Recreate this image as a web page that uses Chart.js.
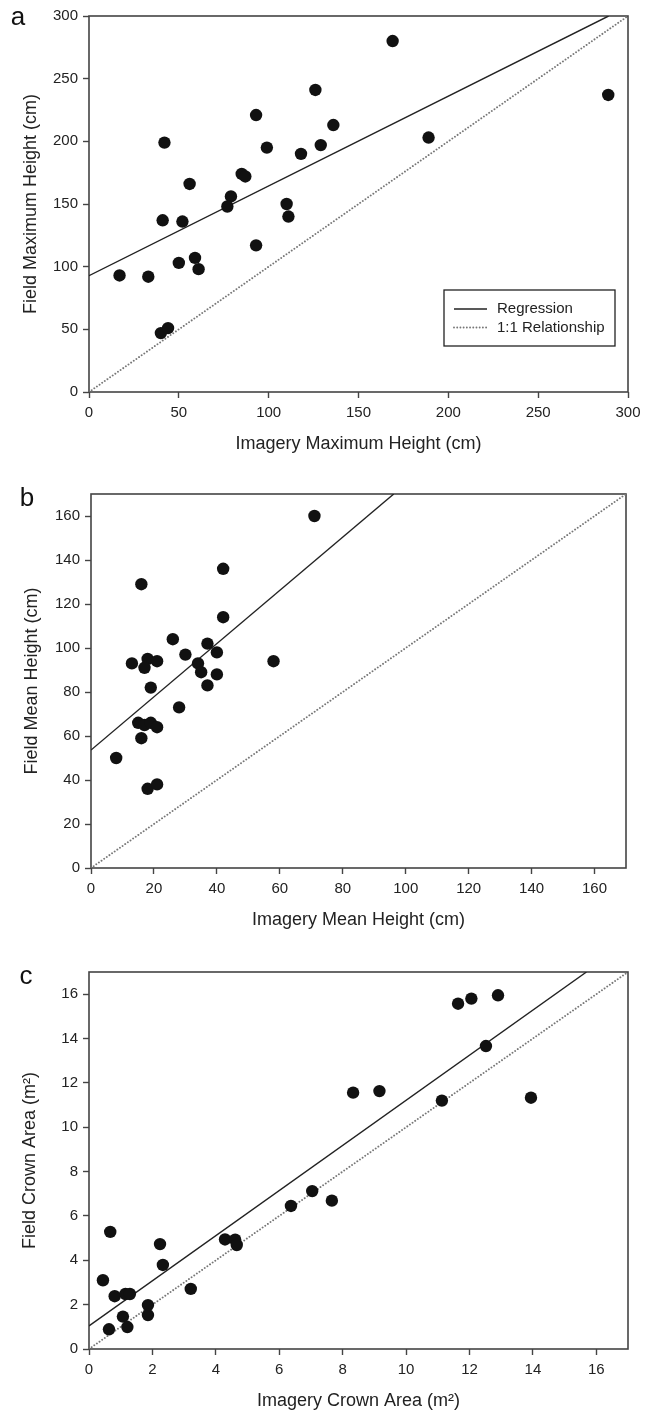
<!DOCTYPE html>
<html><head><meta charset="utf-8">
<script src="https://cdn.jsdelivr.net/npm/chart.js@4.4.1/dist/chart.umd.min.js"></script>
<style>
html,body{margin:0;padding:0;background:#fff;}
#wrap{position:relative;width:653px;height:1413px;overflow:hidden;background:#fff;}
canvas{position:absolute;left:0;}
</style></head><body>
<div id="wrap">
<canvas id="ca" width="653" height="470" style="top:0px;width:653px;height:470px"></canvas>
<canvas id="cb" width="653" height="462" style="top:470px;width:653px;height:462px"></canvas>
<canvas id="cc" width="653" height="481" style="top:932px;width:653px;height:481px"></canvas>
</div>
<script>
// ---------- data ----------
const aImagery = [42, 93, 126, 99, 56, 85, 87, 79, 77, 118, 129, 110, 111, 41, 52, 169, 289, 136, 189, 17, 33, 50, 59, 61, 93, 40, 44];
const aField   = [199, 221, 241, 195, 166, 174, 172, 156, 148, 190, 197, 150, 140, 137, 136, 280, 237, 213, 203, 93, 92, 103, 107, 98, 117, 47, 51];
const aRegX = [0, 289.2];
const aRegY = [92.8, 300];
const aOneX = [0, 300];
const aOneY = [0, 300];
const aTicks = [0, 50, 100, 150, 200, 250, 300];

const bImagery = [71, 42, 16, 42, 26, 37, 40, 30, 13, 18, 21, 17, 34, 35, 40, 58, 19, 37, 28, 15, 17, 19, 21, 16, 8, 18, 21];
const bField   = [160, 136, 129, 114, 104, 102, 98, 97, 93, 95, 94, 91, 93, 89, 88, 94, 82, 83, 73, 66, 65, 66, 64, 59, 50, 36, 38];
const bRegX = [0, 96.2];
const bRegY = [53.6, 170];
const bOneX = [0, 170];
const bOneY = [0, 170];
const bTicks = [0, 20, 40, 60, 80, 100, 120, 140, 160];

const cImagery = [11.64, 12.06, 12.9, 12.52, 8.33, 9.16, 11.13, 13.94, 7.04, 6.37, 7.66, 0.67, 2.24, 2.33, 4.29, 4.61, 4.66, 0.44, 0.81, 1.15, 1.29, 3.21, 1.86, 1.86, 1.07, 1.21, 0.63];
const cField   = [15.57, 15.8, 15.95, 13.66, 11.56, 11.63, 11.2, 11.33, 7.12, 6.45, 6.69, 5.28, 4.73, 3.79, 4.94, 4.93, 4.69, 3.1, 2.38, 2.48, 2.48, 2.71, 1.98, 1.53, 1.46, 0.99, 0.89];
const cRegX = [0, 15.69];
const cRegY = [1.04, 17];
const cOneX = [0, 17];
const cOneY = [0, 17];
const cTicks = [0, 2, 4, 6, 8, 10, 12, 14, 16];

const legendLabels = ['Regression', '1:1 Relationship'];

// ---------- styling ----------
const FONT = "'Liberation Sans', Arial, Helvetica, sans-serif";
const TEXT = '#222';
const AXIS = '#444';

const pairs = (xs, ys) => xs.map((x, i) => ({x: x, y: ys[i]}));

function axis(isX, title, ticks, max, fit) {
  return {
    type: 'linear', min: 0, max: max,
    afterBuildTicks: s => { s.ticks = ticks.map(v => ({value: v})); },
    afterFit: s => { if (isX) s.height = fit; else s.width = fit; },
    grid: {display: true, drawOnChartArea: false, drawTicks: true, tickLength: 6, tickColor: AXIS, tickWidth: 1.4},
    border: {display: false},
    ticks: {color: TEXT, font: {family: FONT, size: 15}, padding: isX ? 6 : 5, autoSkip: false, maxRotation: 0, callback: v => String(v)},
    title: {display: true, text: title, color: TEXT, font: {family: FONT, size: 18}, padding: 0}
  };
}

const framePlugin = {
  id: 'frame',
  beforeDatasetsDraw(chart) {
    const a = chart.chartArea, ctx = chart.ctx;
    ctx.save();
    ctx.strokeStyle = AXIS; ctx.lineWidth = 1.6;
    ctx.strokeRect(a.left, a.top, a.right - a.left, a.bottom - a.top);
    ctx.restore();
  }
};

const panelLabel = {
  id: 'panelLabel',
  afterDraw(chart, args, opts) {
    if (!opts || !opts.text) return;
    const ctx = chart.ctx;
    ctx.save();
    ctx.fillStyle = '#111';
    ctx.font = opts.size + 'px ' + FONT;
    ctx.textAlign = 'center'; ctx.textBaseline = 'middle';
    ctx.fillText(opts.text, opts.x, opts.y);
    ctx.restore();
  }
};

const boxLegend = {
  id: 'boxLegend',
  afterDraw(chart, args, opts) {
    if (!opts || !opts.show) return;
    const ctx = chart.ctx;
    const ds = chart.data.datasets;
    ctx.save();
    ctx.strokeStyle = '#222'; ctx.lineWidth = 1.3;
    ctx.strokeRect(opts.x, opts.y, opts.w, opts.h);
    ctx.font = '15px ' + FONT; ctx.fillStyle = TEXT; ctx.textBaseline = 'middle';
    const rows = [ds[1], ds[2]];
    rows.forEach((d, i) => {
      const y = opts.y + opts.rowY[i];
      ctx.beginPath();
      ctx.strokeStyle = d.borderColor; ctx.lineWidth = d.borderWidth;
      ctx.setLineDash(d.borderDash || []);
      ctx.lineCap = d.borderCapStyle || 'butt';
      ctx.moveTo(opts.x + 10, y); ctx.lineTo(opts.x + 43, y);
      ctx.stroke();
      ctx.setLineDash([]);
      ctx.fillText(legendLabels[i], opts.x + 53, y);
    });
    ctx.restore();
  }
};

function makeChart(id, o) {
  return new Chart(document.getElementById(id), {
    type: 'scatter',
    data: {
      datasets: [
        {label: 'data', data: pairs(o.px, o.py), pointRadius: 6.2, pointHoverRadius: 6.2, backgroundColor: '#111', borderWidth: 0, order: 0},
        {label: legendLabels[0], data: pairs(o.rx, o.ry), showLine: true, borderColor: '#222', borderWidth: 1.4, pointRadius: 0, order: 1},
        {label: legendLabels[1], data: pairs(o.ox, o.oy), showLine: true, borderColor: '#777', borderWidth: 1.9, borderDash: [0.01, 3.2], borderCapStyle: 'round', pointRadius: 0, order: 2}
      ]
    },
    options: {
      responsive: false, animation: false, events: [], devicePixelRatio: 1,
      layout: {padding: o.pad},
      scales: {
        x: axis(true, o.xTitle, o.ticks, o.max, 63),
        y: axis(false, o.yTitle, o.ticks, o.max, o.yw)
      },
      plugins: {
        legend: {display: false}, tooltip: {enabled: false},
        panelLabel: o.label,
        boxLegend: o.legend || {show: false}
      }
    },
    plugins: [framePlugin, panelLabel, boxLegend]
  });
}

makeChart('ca', {
  px: aImagery, py: aField, rx: aRegX, ry: aRegY, ox: aOneX, oy: aOneY,
  ticks: aTicks, max: 300,
  xTitle: 'Imagery Maximum Height (cm)', yTitle: 'Field Maximum Height (cm)',
  pad: {left: 20, top: 16, right: 25, bottom: 15}, yw: 69,
  label: {text: 'a', x: 18, y: 18, size: 26},
  legend: {show: true, x: 444, y: 290, w: 171, h: 56, rowY: [19, 37.5]}
});

makeChart('cb', {
  px: bImagery, py: bField, rx: bRegX, ry: bRegY, ox: bOneX, oy: bOneY,
  ticks: bTicks, max: 170,
  xTitle: 'Imagery Mean Height (cm)', yTitle: 'Field Mean Height (cm)',
  pad: {left: 21, top: 24, right: 27, bottom: 1}, yw: 70,
  label: {text: 'b', x: 27, y: 29, size: 26}
});

makeChart('cc', {
  px: cImagery, py: cField, rx: cRegX, ry: cRegY, ox: cOneX, oy: cOneY,
  ticks: cTicks, max: 17,
  xTitle: 'Imagery Crown Area (m²)', yTitle: 'Field Crown Area (m²)',
  pad: {left: 19, top: 40, right: 25, bottom: 1}, yw: 70,
  label: {text: 'c', x: 26, y: 45, size: 26}
});
</script>
</body></html>
